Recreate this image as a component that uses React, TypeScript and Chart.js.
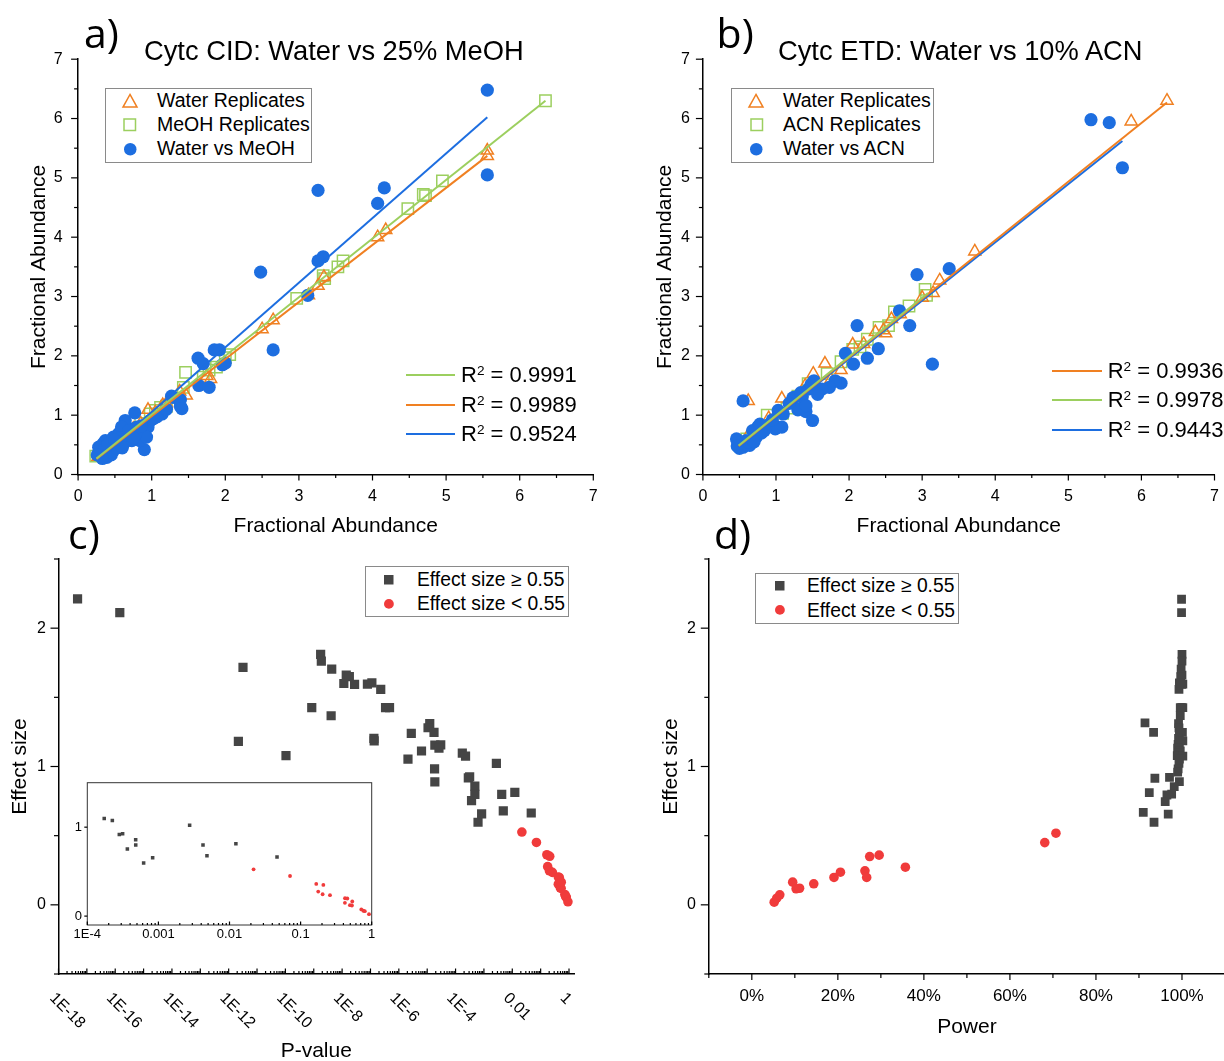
import React, { useEffect, useRef } from 'react';
import { Chart, registerables } from 'chart.js';

Chart.register(...registerables);

const FONT = '"Liberation Sans", Arial, Helvetica, sans-serif';
const LABEL_FONT = '"Open Sans", "Liberation Sans", sans-serif';

const ORANGE = '#f08022';
const GREEN = '#9ccf5f';
const BLUE = '#1d6ee0';
const DARK = '#454545';
const RED = '#f03b3b';

type Pair = [number, number];

// ---------------- Panel a: Cytc CID ----------------
const aWaterReps: Pair[] = [
  [5.56, 5.46], [5.56, 5.37], [4.18, 4.12], [4.07, 4.0], [3.34, 3.33], [3.26, 3.18], [3.13, 3.02],
  [2.65, 2.6], [2.5, 2.45], [1.8, 1.61], [1.75, 1.66], [1.47, 1.33], [0.95, 1.09], [1.15, 1.17],
  [0.27, 0.3], [0.35, 0.36], [0.42, 0.43], [0.5, 0.5], [0.58, 0.6], [0.66, 0.68], [0.75, 0.77],
  [0.85, 0.86], [1.05, 1.05], [1.2, 1.2], [1.38, 1.4],
];
const aMeohReps: Pair[] = [
  [6.35, 6.3], [4.95, 4.95], [4.69, 4.72], [4.72, 4.7], [4.48, 4.48], [3.6, 3.6], [3.53, 3.5],
  [3.33, 3.35], [3.35, 3.3], [2.97, 2.97], [2.06, 2.02], [2.0, 1.97], [1.88, 1.81], [1.78, 1.76],
  [1.7, 1.64], [1.46, 1.72], [1.43, 1.47], [1.2, 1.15], [1.12, 1.13], [1.05, 1.08], [0.98, 1.02],
  [0.24, 0.31], [0.4, 0.42], [0.55, 0.55], [0.7, 0.72], [0.85, 0.86],
];
const aWaterVsMeoh: Pair[] = [
  [5.56, 6.48], [5.56, 5.05], [3.26, 4.79], [4.16, 4.83], [4.07, 4.57], [3.33, 3.67], [3.26, 3.6],
  [2.48, 3.41], [3.12, 3.02], [2.65, 2.1], [1.85, 2.1], [1.92, 2.1], [1.96, 1.85], [2.0, 1.88],
  [1.63, 1.96], [1.7, 1.87], [1.64, 1.5], [1.78, 1.47], [1.27, 1.32], [1.39, 1.26], [1.39, 1.15],
  [1.29, 1.3], [1.38, 1.25], [1.41, 1.11], [1.14, 1.02], [1.07, 0.97], [0.98, 0.91], [0.77, 1.04],
  [0.9, 0.42], [0.34, 0.52], [0.3, 0.38], [0.39, 0.29], [0.37, 0.57], [0.48, 0.63], [0.55, 0.69],
  [0.66, 0.8], [0.8, 0.8], [0.89, 0.74], [0.84, 0.57], [0.73, 0.57], [0.62, 0.52], [0.48, 0.4],
  [0.71, 0.69], [0.43, 0.46], [0.64, 0.91], [0.59, 0.8], [0.95, 0.8], [0.66, 0.57], [0.41, 0.38],
  [0.28, 0.46], [0.32, 0.29], [0.55, 0.52], [0.93, 0.63], [0.45, 0.33], [0.36, 0.44], [0.52, 0.45],
  [0.26, 0.33], [0.33, 0.27], [0.4, 0.5], [0.58, 0.62], [0.69, 0.74], [0.78, 0.68], [0.86, 0.82],
  [1.02, 0.94], [1.2, 1.1], [0.6, 0.45], [0.75, 0.62], [0.5, 0.58],
];
const aFitMeoh: Pair[] = [[0.25, 0.27], [6.35, 6.3]];
const aFitWater: Pair[] = [[0.25, 0.26], [5.56, 5.37]];
const aFitCross: Pair[] = [[0.28, 0.27], [5.56, 6.02]];
const aR2 = ['0.9991', '0.9989', '0.9524'];

// ---------------- Panel b: Cytc ETD ----------------
const bWaterReps: Pair[] = [
  [6.35, 6.3], [5.86, 5.95], [3.72, 3.76], [3.24, 3.27], [3.15, 3.06], [3.0, 2.98], [2.58, 2.62],
  [2.47, 2.43], [2.5, 2.38], [2.36, 2.4], [2.05, 2.19], [1.67, 1.87], [1.51, 1.7], [0.62, 1.24],
  [1.08, 1.28], [1.89, 1.76], [1.75, 1.6], [1.4, 1.5], [0.9, 0.95], [0.75, 0.78], [0.6, 0.62],
  [0.5, 0.5], [1.2, 1.2], [2.2, 2.2], [2.7, 2.7],
];
const bAcnReps: Pair[] = [
  [3.04, 3.12], [3.06, 3.02], [2.82, 2.84], [2.62, 2.74], [2.54, 2.51], [2.41, 2.48], [2.25, 2.28],
  [2.05, 2.11], [1.89, 1.9], [1.44, 1.53], [1.09, 1.03], [0.88, 1.0], [1.15, 1.12], [1.3, 1.32],
  [0.6, 0.6], [0.7, 0.7], [0.8, 0.8], [0.5, 0.5], [1.7, 1.7], [2.15, 2.15],
];
const bWaterVsAcn: Pair[] = [
  [5.31, 5.98], [5.56, 5.93], [5.74, 5.17], [3.37, 3.47], [2.93, 3.37], [2.69, 2.76], [2.83, 2.51],
  [2.11, 2.51], [2.4, 2.12], [2.25, 1.96], [3.14, 1.86], [1.95, 2.04], [2.06, 1.86], [1.89, 1.54],
  [1.81, 1.58], [1.73, 1.47], [1.63, 1.44], [1.52, 1.58], [1.44, 1.44], [1.36, 1.31], [1.23, 1.29],
  [1.3, 1.09], [1.41, 1.06], [1.5, 0.91], [1.03, 1.08], [0.99, 0.77], [1.08, 0.8], [0.55, 1.24],
  [0.48, 0.52], [0.46, 0.6], [0.55, 0.46], [0.64, 0.49], [0.73, 0.63], [0.75, 0.8], [0.84, 0.74],
  [0.91, 0.85], [1.02, 0.8], [1.25, 1.3], [1.32, 1.11], [1.41, 1.16], [1.57, 1.35], [0.59, 0.57],
  [0.68, 0.74], [0.5, 0.44], [0.62, 0.55], [0.8, 0.7], [1.1, 1.02], [1.18, 1.2], [1.48, 1.52],
  [0.47, 0.48], [0.7, 0.55], [0.78, 0.85], [0.95, 0.92], [1.34, 1.38],
];
const bFitWater: Pair[] = [[0.49, 0.48], [6.35, 6.27]];
const bFitAcn: Pair[] = [[0.49, 0.49], [3.08, 3.06]];
const bFitCross: Pair[] = [[0.49, 0.47], [5.74, 5.62]];
const bR2 = ['0.9936', '0.9978', '0.9443'];

// ---------------- Panel c: P-value vs effect size ----------------
const cBlack: Pair[] = [
  [4.7e-18, 2.212], [1.45e-16, 2.113], [3.2e-12, 1.716], [2.2e-12, 1.181], [1.05e-10, 1.078],
  [8.5e-10, 1.425], [1.75e-9, 1.81], [1.85e-9, 1.762], [4.3e-9, 1.704], [4.1e-9, 1.367],
  [1.4e-8, 1.66], [1.8e-8, 1.65], [1.15e-8, 1.6], [2.75e-8, 1.593], [7.8e-8, 1.596],
  [1.12e-7, 1.605], [2.3e-7, 1.557], [3.4e-7, 1.425], [4.7e-7, 1.425], [1.32e-7, 1.203],
  [1.35e-7, 1.185], [2.1e-6, 1.054], [2.75e-6, 1.24], [6.3e-6, 1.112], [1.23e-5, 1.31],
  [1.07e-5, 1.28], [1.74e-5, 1.247], [1.86e-5, 1.155], [3.0e-5, 1.157], [2.6e-5, 1.133],
  [1.82e-5, 0.983], [1.86e-5, 0.889],
  [1.73e-4, 1.097], [2.25e-4, 1.075], [2.82e-4, 0.918], [3.14e-4, 0.925], [3.66e-4, 0.754],
  [4.79e-4, 0.858], [4.8e-4, 0.799], [6.2e-4, 0.597], [8.3e-4, 0.657], [2.75e-3, 1.022],
  [4.24e-3, 0.799], [4.82e-3, 0.679], [0.0123, 0.813], [0.0466, 0.664],
];
const cRed: Pair[] = [
  [0.0218, 0.526], [0.071, 0.451], [0.166, 0.362], [0.209, 0.351], [0.177, 0.276], [0.204, 0.246],
  [0.259, 0.235], [0.421, 0.201], [0.454, 0.198], [0.42, 0.149], [0.494, 0.123], [0.527, 0.119],
  [0.533, 0.164], [0.714, 0.075], [0.762, 0.06], [0.8, 0.056], [0.916, 0.022],
];
const cTickValues = [1e-18, 1e-16, 1e-14, 1e-12, 1e-10, 1e-8, 1e-6, 1e-4, 1e-2, 1];
const cTickLabels = ['1E-18', '1E-16', '1E-14', '1E-12', '1E-10', '1E-8', '1E-6', '1E-4', '0.01', '1'];
const insetTickValues = [1e-4, 1e-3, 1e-2, 1e-1, 1];
const insetTickLabels = ['1E-4', '0.001', '0.01', '0.1', '1'];
const esTickValues = [0, 1, 2];
const esTickLabels = ['0', '1', '2'];

// ---------------- Panel d: Power vs effect size ----------------
const dBlack: Pair[] = [
  [99.9, 2.209], [99.9, 2.113], [100.0, 1.81], [100.0, 1.762], [99.8, 1.704], [100.0, 1.66],
  [99.7, 1.65], [99.5, 1.6], [99.9, 1.593], [100.2, 1.596], [99.4, 1.605], [99.3, 1.557],
  [99.6, 1.425], [100.2, 1.425], [99.9, 1.425], [99.6, 1.367], [99.2, 1.31], [99.3, 1.28],
  [100.1, 1.247], [99.4, 1.24], [99.2, 1.203], [100.2, 1.185], [99.4, 1.155], [99.1, 1.16],
  [99.0, 1.133], [99.6, 1.112], [99.1, 1.097], [98.9, 1.078], [100.2, 1.075], [99.4, 1.054],
  [99.3, 1.022], [99.1, 0.983], [91.4, 1.316], [93.4, 1.247], [93.7, 0.915], [97.1, 0.922],
  [99.4, 0.89], [98.2, 0.854], [96.5, 0.794], [96.1, 0.746], [92.4, 0.811], [91.0, 0.669],
  [93.5, 0.597], [96.8, 0.655], [97.6, 0.8], [99.0, 0.959],
];
const dRed: Pair[] = [
  [5.2, 0.019], [5.8, 0.048], [6.5, 0.072], [9.5, 0.164], [10.3, 0.116], [11.1, 0.12],
  [14.4, 0.152], [19.1, 0.198], [20.6, 0.236], [26.3, 0.246], [26.7, 0.198], [27.4, 0.349],
  [29.6, 0.359], [35.7, 0.272], [68.1, 0.45], [70.7, 0.518],
];
const dTickValues = [0, 20, 40, 60, 80, 100];
const dTickLabels = ['0%', '20%', '40%', '60%', '80%', '100%'];

const abTickValues = [0, 1, 2, 3, 4, 5, 6, 7];
const abTickLabels = ['0', '1', '2', '3', '4', '5', '6', '7'];
const abMinor = [0.5, 1.5, 2.5, 3.5, 4.5, 5.5, 6.5];

// ---------------- helpers ----------------
const toXY = (a: Pair[]) => a.map(([x, y]) => ({ x, y }));

const logMinor = (e0: number, e1: number, max: number) => {
  const out: number[] = [];
  for (let e = e0; e < e1; e++) for (let m = 2; m <= 9; m++) { const v = m * Math.pow(10, e); if (v <= max) out.push(v); }
  return out;
};

type TickSpec = { axis: 'x' | 'y'; values: number[]; len: number };

function tickPlugin(id: string, specs: TickSpec[]) {
  return {
    id,
    afterDraw(chart: any) {
      const { ctx, chartArea } = chart;
      ctx.save();
      ctx.strokeStyle = '#000';
      ctx.lineWidth = 1.2;
      for (const s of specs) {
        const sc = chart.scales[s.axis];
        for (const v of s.values) {
          const p = sc.getPixelForValue(v);
          ctx.beginPath();
          if (s.axis === 'x') { ctx.moveTo(p, chartArea.bottom); ctx.lineTo(p, chartArea.bottom + s.len); }
          else { ctx.moveTo(chartArea.left, p); ctx.lineTo(chartArea.left - s.len, p); }
          ctx.stroke();
        }
      }
      ctx.restore();
    },
  };
}

function axis(o: {
  type?: string; min: number; max: number; vals: number[]; labels: string[];
  fontSize: number; pad: number; size: number; horizontal: boolean;
  title?: string; titlePad?: { top: number; bottom: number }; showLabels?: boolean; border?: boolean;
}) {
  return {
    type: o.type ?? 'linear',
    min: o.min,
    max: o.max,
    afterBuildTicks: (s: any) => { s.ticks = o.vals.map((v) => ({ value: v })); },
    afterFit: (s: any) => {
      if (o.horizontal) s.height = o.size; else s.width = o.size;
      s.paddingTop = 0; s.paddingBottom = 0; s.paddingLeft = 0; s.paddingRight = 0;
    },
    ticks: {
      display: o.showLabels !== false,
      autoSkip: false, maxRotation: 0, minRotation: 0,
      font: { family: FONT, size: o.fontSize }, color: '#000', padding: o.pad,
      callback: (_v: any, i: number) => o.labels[i] ?? '',
    },
    grid: { display: false, drawTicks: false },
    border: { display: o.border !== false, color: '#000', width: 1.5 },
    title: o.title
      ? { display: true, text: o.title, color: '#000', font: { family: FONT, size: 21 }, padding: o.titlePad }
      : { display: false },
  };
}

const baseOpts = (padding: any) => ({
  animation: false as const,
  responsive: false,
  events: [] as any[],
  layout: { padding },
  plugins: { legend: { display: false }, tooltip: { enabled: false } },
});

const lineDs = (d: Pair[], color: string) => ({
  data: toXY(d), showLine: true, borderColor: color, backgroundColor: color, borderWidth: 2, pointRadius: 0, fill: false,
});
const triDs = (d: Pair[]) => ({
  data: toXY(d), pointStyle: 'triangle', pointRadius: 7, borderColor: ORANGE, pointBorderColor: ORANGE,
  backgroundColor: 'rgba(0,0,0,0)', pointBackgroundColor: 'rgba(0,0,0,0)', pointBorderWidth: 1.5, borderWidth: 1.5,
});
const sqDs = (d: Pair[]) => ({
  data: toXY(d), pointStyle: 'rect', pointRadius: 8, borderColor: GREEN, pointBorderColor: GREEN,
  backgroundColor: 'rgba(0,0,0,0)', pointBackgroundColor: 'rgba(0,0,0,0)', pointBorderWidth: 1.5, borderWidth: 1.5,
});
const dotDs = (d: Pair[], color: string, r: number) => ({
  data: toXY(d), pointStyle: 'circle', pointRadius: r, borderColor: color, backgroundColor: color,
  pointBackgroundColor: color, pointBorderColor: color, pointBorderWidth: 0, borderWidth: 0,
});
const blockDs = (d: Pair[], r: number) => ({
  data: toXY(d), pointStyle: 'rect', pointRadius: r, borderColor: DARK, backgroundColor: DARK,
  pointBackgroundColor: DARK, pointBorderColor: DARK, pointBorderWidth: 0, borderWidth: 0,
});

function cfgA() {
  return {
    type: 'scatter',
    data: {
      datasets: [
        lineDs(aFitMeoh, GREEN), lineDs(aFitWater, ORANGE), lineDs(aFitCross, BLUE),
        dotDs(aWaterVsMeoh, BLUE, 6.6), triDs(aWaterReps), sqDs(aMeohReps),
      ],
    },
    options: {
      ...baseOpts({ left: 0, top: 59.2, right: 18.7, bottom: 0 }),
      scales: {
        x: axis({ min: 0, max: 7, vals: abTickValues, labels: abTickLabels, fontSize: 16, pad: 12.3, size: 65.5, horizontal: true, title: 'Fractional Abundance', titlePad: { top: 0, bottom: 0.7 } }),
        y: axis({ min: 0, max: 7, vals: abTickValues, labels: abTickLabels, fontSize: 16, pad: 15.5, size: 78.1, horizontal: false, title: 'Fractional Abundance', titlePad: { top: 26.9, bottom: 0 } }),
      },
    },
    plugins: [tickPlugin('ticksA', [
      { axis: 'x', values: abTickValues, len: 6 }, { axis: 'x', values: abMinor, len: 3.5 },
      { axis: 'y', values: abTickValues, len: 7 }, { axis: 'y', values: abMinor, len: 4 },
    ])],
  };
}

function cfgB() {
  return {
    type: 'scatter',
    data: {
      datasets: [
        lineDs(bFitAcn, GREEN), lineDs(bFitWater, ORANGE), lineDs(bFitCross, BLUE),
        dotDs(bWaterVsAcn, BLUE, 6.6), triDs(bWaterReps), sqDs(bAcnReps),
      ],
    },
    options: {
      ...baseOpts({ left: 0, top: 59.2, right: 5, bottom: 0 }),
      scales: {
        x: axis({ min: 0, max: 7, vals: abTickValues, labels: abTickLabels, fontSize: 16, pad: 12.3, size: 65.5, horizontal: true, title: 'Fractional Abundance', titlePad: { top: 0, bottom: 0.7 } }),
        y: axis({ min: 0, max: 7, vals: abTickValues, labels: abTickLabels, fontSize: 16, pad: 13, size: 90.9, horizontal: false, title: 'Fractional Abundance', titlePad: { top: 40.6, bottom: 0 } }),
      },
    },
    plugins: [tickPlugin('ticksB', [
      { axis: 'x', values: abTickValues, len: 6 }, { axis: 'x', values: abMinor, len: 3.5 },
      { axis: 'y', values: abTickValues, len: 7 }, { axis: 'y', values: abMinor, len: 4 },
    ])],
  };
}

const cLabelPlugin = {
  id: 'cLabels',
  afterDraw(chart: any) {
    const { ctx, chartArea } = chart;
    const sx = chart.scales.x;
    ctx.save();
    ctx.font = `16px ${FONT}`;
    ctx.fillStyle = '#000';
    ctx.textAlign = 'left';
    ctx.textBaseline = 'top';
    cTickValues.forEach((v, i) => {
      const px = sx.getPixelForValue(v);
      ctx.save();
      ctx.translate(px - 0.7, chartArea.bottom + 16);
      ctx.rotate(Math.PI / 4);
      ctx.fillText(cTickLabels[i], 0, 0);
      ctx.restore();
    });
    ctx.restore();
  },
};

function cfgC() {
  const majors = [];
  for (let e = -18; e <= 0; e++) majors.push(Math.pow(10, e));
  return {
    type: 'scatter',
    data: { datasets: [dotDs(cRed, RED, 4.8), blockDs(cBlack, 6.5)] },
    options: {
      ...baseOpts({ left: 0, top: 19, right: 38, bottom: 0 }),
      scales: {
        x: axis({ type: 'logarithmic', min: 1e-18, max: 1.5, vals: cTickValues, labels: cTickLabels, fontSize: 16, pad: 0, size: 96, horizontal: true, title: 'P-value', titlePad: { top: 0, bottom: 6.4 }, showLabels: false }),
        y: axis({ min: -0.5, max: 2.5, vals: esTickValues, labels: esTickLabels, fontSize: 16, pad: 12.5, size: 58.5, horizontal: false, title: 'Effect size', titlePad: { top: 7.4, bottom: 0 } }),
      },
    },
    plugins: [
      tickPlugin('ticksC', [
        { axis: 'x', values: majors, len: -5.5 }, { axis: 'x', values: logMinor(-18, 1, 1.5), len: -3 },
        { axis: 'y', values: esTickValues, len: 8 }, { axis: 'y', values: [-0.5, 0.5, 1.5, 2.5], len: 4.5 },
      ]),
      cLabelPlugin,
    ],
  };
}

const insetBoxPlugin = {
  id: 'insetBox',
  afterDraw(chart: any) {
    const { ctx, chartArea: a } = chart;
    ctx.save();
    ctx.strokeStyle = '#333';
    ctx.lineWidth = 1;
    ctx.strokeRect(a.left, a.top, a.right - a.left, a.bottom - a.top);
    ctx.restore();
  },
};

function cfgInset() {
  const inRange = (d: Pair[]) => d.filter(([p]) => p >= 1e-4);
  return {
    type: 'scatter',
    data: { datasets: [dotDs(inRange(cRed), RED, 1.9), blockDs(inRange(cBlack), 2.5)] },
    options: {
      ...baseOpts({ left: 0, top: 12.7, right: 8.3, bottom: 0 }),
      scales: {
        x: axis({ type: 'logarithmic', min: 1e-4, max: 1, vals: insetTickValues, labels: insetTickLabels, fontSize: 13, pad: 1.2, size: 25, horizontal: true, border: false }),
        y: axis({ min: -0.1, max: 1.5, vals: [0, 1], labels: ['0', '1'], fontSize: 13, pad: 5.3, size: 47.3, horizontal: false, border: false }),
      },
    },
    plugins: [
      insetBoxPlugin,
      tickPlugin('ticksInset', [
        { axis: 'x', values: insetTickValues, len: -3.5 }, { axis: 'x', values: logMinor(-4, 0, 1), len: -2 },
        { axis: 'y', values: [0, 1], len: 3 },
      ]),
    ],
  };
}

function cfgD() {
  return {
    type: 'scatter',
    data: { datasets: [dotDs(dRed, RED, 4.8), blockDs(dBlack, 6.2)] },
    options: {
      ...baseOpts({ left: 0, top: 19, right: 7, bottom: 0 }),
      scales: {
        x: axis({ min: -10, max: 110, vals: dTickValues, labels: dTickLabels, fontSize: 17, pad: 12.5, size: 96, horizontal: true, title: 'Power', titlePad: { top: 0, bottom: 29.7 } }),
        y: axis({ min: -0.5, max: 2.5, vals: esTickValues, labels: esTickLabels, fontSize: 16, pad: 12.8, size: 96.8, horizontal: false, title: 'Effect size', titlePad: { top: 46.5, bottom: 0 } }),
      },
    },
    plugins: [tickPlugin('ticksD', [
      { axis: 'x', values: dTickValues, len: 6 }, { axis: 'x', values: [-10, 10, 30, 50, 70, 90, 110], len: 4 },
      { axis: 'y', values: esTickValues, len: 8 }, { axis: 'y', values: [-0.5, 0.5, 1.5, 2.5], len: 4.5 },
    ])],
  };
}

// ---------------- HTML overlays ----------------
function Marker({ kind, color, x, y, size }: { kind: string; color: string; x: number; y: number; size: number }) {
  const s = size + 4;
  const c = s / 2;
  let shape: any = null;
  if (kind === 'tri') {
    const h = size * 0.866;
    shape = <polygon points={`${c},${c - h / 2 - 0.5} ${c + size / 2},${c + h / 2} ${c - size / 2},${c + h / 2}`} fill="none" stroke={color} strokeWidth={1.5} />;
  } else if (kind === 'sq') {
    shape = <rect x={c - size / 2} y={c - size / 2} width={size} height={size} fill="none" stroke={color} strokeWidth={1.5} />;
  } else if (kind === 'block') {
    shape = <rect x={c - size / 2} y={c - size / 2} width={size} height={size} fill={color} />;
  } else {
    shape = <circle cx={c} cy={c} r={size / 2} fill={color} />;
  }
  return (
    <svg width={s} height={s} style={{ position: 'absolute', left: x - c, top: y - c, overflow: 'visible' }}>
      {shape}
    </svg>
  );
}

function Text({ x, y, size, children, family = FONT }: any) {
  return (
    <div style={{ position: 'absolute', left: x, top: y - size / 2, fontSize: size, lineHeight: `${size}px`, whiteSpace: 'nowrap', fontFamily: family, color: '#000' }}>
      {children}
    </div>
  );
}

function BaselineText({ x, baseline, size, children, family = FONT, k = 0.8465 }: any) {
  return (
    <div style={{ position: 'absolute', left: x, top: baseline - k * size, fontSize: size, lineHeight: `${size}px`, whiteSpace: 'nowrap', fontFamily: family, color: '#000' }}>
      {children}
    </div>
  );
}

function Box({ l, t, r, b }: any) {
  return <div style={{ position: 'absolute', left: l, top: t, width: r - l, height: b - t, border: '1px solid #8a8a8a', boxSizing: 'border-box', background: '#fff' }} />;
}

function R2({ value }: { value: string }) {
  return (
    <span>
      R<span style={{ fontSize: '0.62em', position: 'relative', top: '-0.5em' }}>2</span> = {value}
    </span>
  );
}

function R2Row({ color, x1, x2, y, tx, value, lw }: any) {
  return (
    <>
      <div style={{ position: 'absolute', left: x1, top: y - lw / 2, width: x2 - x1, height: lw, background: color }} />
      <Text x={tx} y={y} size={22}><R2 value={value} /></Text>
    </>
  );
}

export default function App() {
  const aRef = useRef<HTMLCanvasElement>(null);
  const bRef = useRef<HTMLCanvasElement>(null);
  const cRef = useRef<HTMLCanvasElement>(null);
  const iRef = useRef<HTMLCanvasElement>(null);
  const dRef = useRef<HTMLCanvasElement>(null);

  useEffect(() => {
    const charts = [
      new Chart(aRef.current as any, cfgA() as any),
      new Chart(bRef.current as any, cfgB() as any),
      new Chart(cRef.current as any, cfgC() as any),
      new Chart(dRef.current as any, cfgD() as any),
      new Chart(iRef.current as any, cfgInset() as any),
    ];
    return () => charts.forEach((c) => c.destroy());
  }, []);

  return (
    <div style={{ position: 'fixed', left: 0, top: 0, width: 1224, height: 1061, overflow: 'hidden', background: '#fff', fontFamily: FONT }}>
      <canvas ref={aRef} width={612} height={540} style={{ position: 'absolute', left: 0, top: 0 }} />
      <canvas ref={bRef} width={612} height={540} style={{ position: 'absolute', left: 612, top: 0 }} />
      <canvas ref={cRef} width={612} height={530} style={{ position: 'absolute', left: 0, top: 540 }} />
      <canvas ref={dRef} width={620} height={530} style={{ position: 'absolute', left: 612, top: 540 }} />
      <canvas ref={iRef} width={340} height={180} style={{ position: 'absolute', left: 40, top: 770 }} />

      {/* panel labels */}
      <BaselineText x={84} baseline={48} size={41} family={LABEL_FONT} k={0.888}>a)</BaselineText>
      <BaselineText x={716.6} baseline={48} size={41} family={LABEL_FONT} k={0.888}>b)</BaselineText>
      <BaselineText x={68} baseline={549.7} size={41} family={LABEL_FONT} k={0.888}>c)</BaselineText>
      <BaselineText x={714} baseline={549.7} size={41} family={LABEL_FONT} k={0.888}>d)</BaselineText>

      {/* titles */}
      <BaselineText x={144} baseline={60} size={27.3}>Cytc CID: Water vs 25% MeOH</BaselineText>
      <BaselineText x={778} baseline={60} size={27.3}>Cytc ETD: Water vs 10% ACN</BaselineText>

      {/* legend a */}
      <Box l={105.4} t={87.5} r={312.3} b={162.5} />
      <Marker kind="tri" color={ORANGE} x={130} y={101} size={14} />
      <Marker kind="sq" color={GREEN} x={130} y={125} size={11.5} />
      <Marker kind="dot" color={BLUE} x={130} y={149} size={12.5} />
      <Text x={157} y={101} size={19.5}>Water Replicates</Text>
      <Text x={157} y={125} size={19.5}>MeOH Replicates</Text>
      <Text x={157} y={149} size={19.5}>Water vs MeOH</Text>

      {/* legend b */}
      <Box l={731.4} t={87.5} r={934.4} b={162.5} />
      <Marker kind="tri" color={ORANGE} x={756.4} y={101} size={14} />
      <Marker kind="sq" color={GREEN} x={756.4} y={125} size={11.5} />
      <Marker kind="dot" color={BLUE} x={756.4} y={149} size={12.5} />
      <Text x={783} y={101} size={19.5}>Water Replicates</Text>
      <Text x={783} y={125} size={19.5}>ACN Replicates</Text>
      <Text x={783} y={149} size={19.5}>Water vs ACN</Text>

      {/* R2 legends */}
      <R2Row color={GREEN} x1={406} x2={455} y={375} tx={461} value={aR2[0]} lw={2} />
      <R2Row color={ORANGE} x1={406} x2={455} y={405} tx={461} value={aR2[1]} lw={2} />
      <R2Row color={BLUE} x1={406} x2={455} y={434} tx={461} value={aR2[2]} lw={2} />
      <R2Row color={ORANGE} x1={1052} x2={1102} y={371} tx={1107.7} value={bR2[0]} lw={2.5} />
      <R2Row color={GREEN} x1={1052} x2={1102} y={400} tx={1107.7} value={bR2[1]} lw={2.5} />
      <R2Row color={BLUE} x1={1052} x2={1102} y={430} tx={1107.7} value={bR2[2]} lw={2.5} />

      {/* legend c */}
      <Box l={365} t={565.7} r={568.7} b={617.3} />
      <Marker kind="block" color={DARK} x={389} y={580} size={9.5} />
      <Marker kind="dot" color={RED} x={389} y={604} size={9.8} />
      <Text x={417} y={580} size={19.3}>Effect size ≥ 0.55</Text>
      <Text x={417} y={604} size={19.3}>Effect size &lt; 0.55</Text>

      {/* legend d */}
      <Box l={755.2} t={572.7} r={959.4} b={624} />
      <Marker kind="block" color={DARK} x={779.8} y={586} size={9.5} />
      <Marker kind="dot" color={RED} x={779.8} y={610.3} size={9.8} />
      <Text x={807} y={586} size={19.3}>Effect size ≥ 0.55</Text>
      <Text x={807} y={610.3} size={19.3}>Effect size &lt; 0.55</Text>
    </div>
  );
}
